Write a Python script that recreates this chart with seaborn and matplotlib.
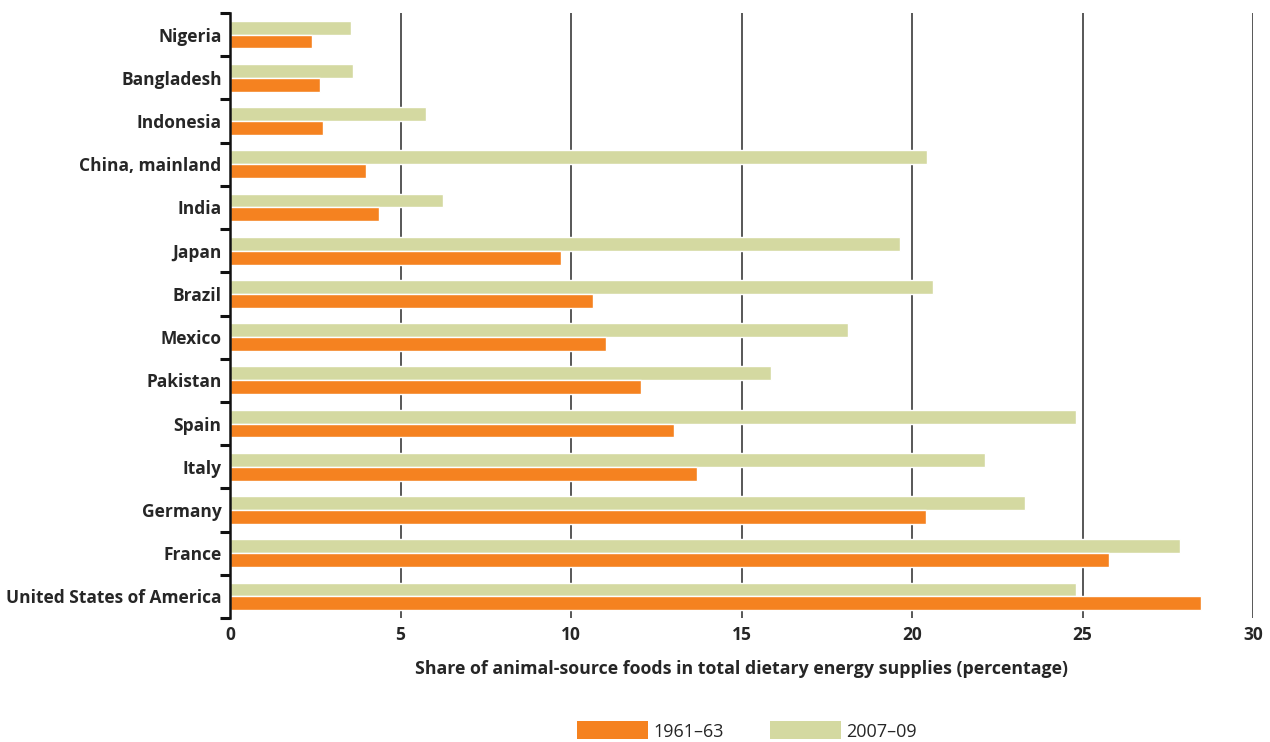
import matplotlib
matplotlib.use("Agg")
import matplotlib.pyplot as plt
from matplotlib.patches import Patch
from matplotlib.ticker import FixedLocator
import seaborn as sns
import pandas as pd

countries = ["Nigeria", "Bangladesh", "Indonesia", "China, mainland", "India", "Japan",
             "Brazil", "Mexico", "Pakistan", "Spain", "Italy", "Germany", "France",
             "United States of America"]
v1961 = [2.4, 2.65, 2.72, 3.98, 4.38, 9.7, 10.65, 11.02, 12.05, 13.02, 13.7, 20.42, 25.78, 28.48]
v2007 = [3.56, 3.62, 5.76, 20.44, 6.25, 19.65, 20.62, 18.12, 15.87, 24.82, 22.14, 23.3, 27.86, 24.82]
periods = ["1961\u201363", "2007\u201309"]
xticks = [0, 5, 10, 15, 20, 25, 30]
xlabel = "Share of animal-source foods in total dietary energy supplies (percentage)"

colors = {periods[0]: "#F58220", periods[1]: "#D4D9A1"}

df = pd.DataFrame({
    "country": countries * 2,
    "value": v1961 + v2007,
    "period": [periods[0]] * len(countries) + [periods[1]] * len(countries),
})

sns.set_style("white")
plt.rcParams["font.family"] = ["Open Sans", "DejaVu Sans"]

fig = plt.figure(figsize=(12.7, 7.42), dpi=100)
ax = fig.add_axes([230 / 1270, 1 - 618 / 742, (1253 - 230) / 1270, (618 - 13) / 742])

sns.barplot(data=df, y="country", x="value", hue="period", order=countries,
            hue_order=[periods[1], periods[0]], palette=colors, orient="h",
            width=0.64, gap=0, saturation=1, ax=ax, legend=False)

ax.set_xlim(0, 30)
ax.set_ylim(len(countries) - 0.5, -0.5)
ax.set_xticks(xticks)
ax.set_xticklabels([str(t) for t in xticks], fontsize=12.5, fontweight="bold")
for t in xticks[1:]:
    ax.axvline(t, color="#2a2a2a", lw=1.1, zorder=0)

ax.yaxis.set_minor_locator(FixedLocator([i - 0.5 for i in range(len(countries) + 1)]))
ax.tick_params(axis="y", which="major", left=False, length=0, pad=6)
ax.tick_params(axis="y", which="minor", left=True, length=7, width=2.2,
               color="#111111", direction="out")
ax.tick_params(axis="x", length=0, pad=6)
for lab in ax.get_yticklabels():
    lab.set_fontsize(12.5)
    lab.set_fontweight("bold")

for s in ["top", "right", "bottom"]:
    ax.spines[s].set_visible(False)
ax.spines["left"].set_color("#111111")
ax.spines["left"].set_linewidth(1.8)

ax.set_ylabel("")
ax.set_xlabel(xlabel, fontsize=12.8, fontweight="bold", labelpad=11)

handles = [Patch(facecolor=colors[p], edgecolor="none", label=p) for p in periods]
fig.legend(handles=handles, loc="center", bbox_to_anchor=(747 / 1270, 1 - 731 / 742),
           ncol=2, frameon=False, handlelength=3.9, handleheight=1.15,
           columnspacing=2.6, handletextpad=0.3, fontsize=13)

fig.savefig("out.png", dpi=100)
